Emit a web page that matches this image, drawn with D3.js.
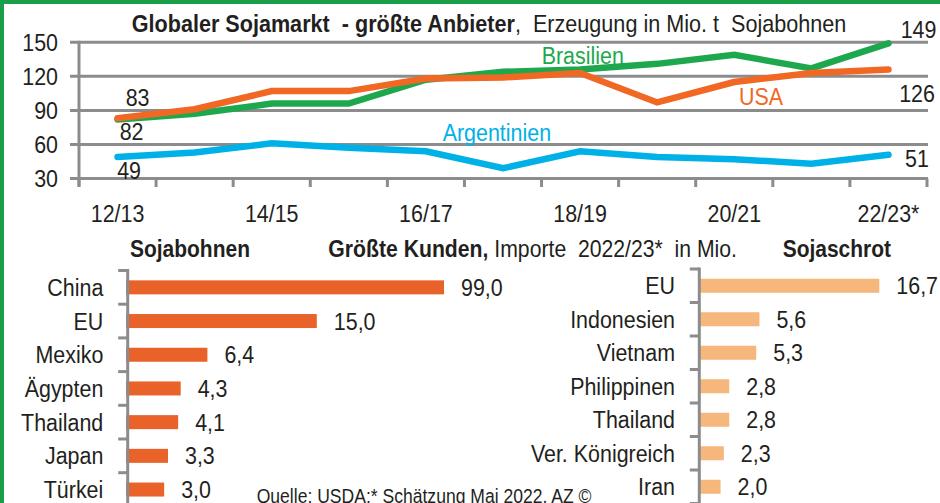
<!DOCTYPE html>
<html>
<head>
<meta charset="utf-8">
<script src="https://cdn.jsdelivr.net/npm/d3@7"></script>
<style>
  body { margin: 0; background: #fff; }
  svg { display: block; font-family: "Liberation Sans", Arial, sans-serif; }
  text { fill: #231f20; white-space: pre; }
</style>
</head>
<body>
<svg id="chart" width="940" height="503"></svg>
<script>
// Erzeugung Sojabohnen in Mio. t
const years = ["12/13", "13/14", "14/15", "15/16", "16/17", "17/18", "18/19", "19/20", "20/21", "21/22", "22/23*"];
const brasilien = [82, 87, 96, 96, 117, 124, 126, 131, 139, 127, 149];
const usa = [83, 91, 107, 107, 118, 119, 123, 97, 115, 123, 126];
const argentinien = [49, 53, 61, 57, 54, 39, 54, 49, 47, 43, 51];
const yTicks = [30, 60, 90, 120, 150];
const yearTicks = ["12/13", "14/15", "16/17", "18/19", "20/21", "22/23*"];

// Importe 2022/23* in Mio.
const sojaLaender = ["China", "EU", "Mexiko", "Ägypten", "Thailand", "Japan", "Türkei"];
const sojaWerte = [99.0, 15.0, 6.4, 4.3, 4.1, 3.3, 3.0];
const schrotLaender = ["EU", "Indonesien", "Vietnam", "Philippinen", "Thailand", "Ver. Königreich", "Iran"];
const schrotWerte = [16.7, 5.6, 5.3, 2.8, 2.8, 2.3, 2.0];

const grey = "#8c8c8c";
const fs = 23.3;
const sx = 0.92;   // narrow the font like a condensed face
let tr = (x, y, s) => "translate(" + x + "," + y + ") scale(" + (s || sx) + ",1)";

let svg = d3.select("#chart");
let de = d3.formatLocale({decimal: ",", thousands: ".", grouping: [3], currency: ["", " €"]});
let fmt = de.format(".1f");

// green frame, only top and left
svg.append("path")
    .attr("d", "M2,503 L2,2 L940,2")
    .attr("fill", "none")
    .attr("stroke", "#1a9f48")
    .attr("stroke-width", 4);

// ---------- top: line chart ----------
let x = d3.scaleBand().domain(years).range([79, 927]);
let y = d3.scaleLinear().domain([30, 150]).range([178.5, 42.3]);
let cx = d => x(d) + x.bandwidth() / 2;

svg.append("g").selectAll("line").data(yTicks).enter().append("line")
    .attr("x1", 70).attr("x2", 928)
    .attr("y1", d => y(d)).attr("y2", d => y(d))
    .attr("stroke", grey).attr("stroke-width", 3);

svg.append("line")
    .attr("x1", 79).attr("x2", 79)
    .attr("y1", y(150) - 1.5).attr("y2", y(30) + 8)
    .attr("stroke", grey).attr("stroke-width", 3);

// ticks between the years
svg.append("g").selectAll("line").data(d3.range(years.length + 1)).enter().append("line")
    .attr("x1", i => x.range()[0] + i * x.step())
    .attr("x2", i => x.range()[0] + i * x.step())
    .attr("y1", y(30)).attr("y2", y(30) + 8.5)
    .attr("stroke", grey).attr("stroke-width", 3);

svg.append("g").selectAll("text").data(yTicks).enter().append("text")
    .attr("transform", d => tr(58, y(d) + 8.5))
    .attr("text-anchor", "end")
    .style("font-size", fs + "px")
    .text(d => d);

let xAxis = svg.append("g")
    .attr("transform", "translate(0,205)")
    .call(d3.axisBottom(x).tickValues(yearTicks).tickSize(0).tickPadding(0));
xAxis.select(".domain").remove();
xAxis.selectAll("text")
    .attr("y", null).attr("dy", null)
    .attr("transform", tr(0, 16.7))
    .attr("font-family", null)
    .style("font-size", fs + "px")
    .style("fill", "#231f20");

let series = [
    {name: "Brasilien", values: brasilien, color: "#1ea84e"},
    {name: "USA", values: usa, color: "#f06824"},
    {name: "Argentinien", values: argentinien, color: "#00b1e7"}
];

let line = d3.line()
    .x((d, i) => cx(years[i]))
    .y(d => y(d));

svg.append("g").selectAll("path").data(series).enter().append("path")
    .attr("d", d => line(d.values))
    .attr("fill", "none")
    .attr("stroke", d => d.color)
    .attr("stroke-width", 6.5)
    .attr("stroke-linecap", "round")
    .attr("stroke-linejoin", "miter");

// series names
let nameLabels = [
    {s: 0, x: 541.7, y: 64.3},
    {s: 1, x: 739, y: 105},
    {s: 2, x: 442.7, y: 140.7}
];
svg.append("g").selectAll("text").data(nameLabels).enter().append("text")
    .attr("transform", d => tr(d.x, d.y))
    .style("font-size", fs + "px")
    .style("fill", d => series[d.s].color)
    .text(d => series[d.s].name);

// first / last values
let valueLabels = [
    {s: 1, i: 0, dx: 20, dy: -12, anchor: "middle"},
    {s: 0, i: 0, dx: 14, dy: 21, anchor: "middle"},
    {s: 2, i: 0, dx: 11.5, dy: 22, anchor: "middle"},
    {s: 0, i: 10, dx: 48, dy: -5, anchor: "end"},
    {s: 1, i: 10, dx: 46.5, dy: 32, anchor: "end"},
    {s: 2, i: 10, dx: 40.5, dy: 12, anchor: "end"}
];
svg.append("g").selectAll("text").data(valueLabels).enter().append("text")
    .attr("transform", d => tr(cx(years[d.i]) + d.dx, y(series[d.s].values[d.i]) + d.dy))
    .attr("text-anchor", d => d.anchor)
    .style("font-size", fs + "px")
    .text(d => series[d.s].values[d.i]);

// title
let title = svg.append("text").attr("transform", tr(131.7, 31.7, 0.9)).style("font-size", "24px");
title.append("tspan").style("font-weight", "bold").text("Globaler Sojamarkt  - größte Anbieter");
title.append("tspan").text(",  Erzeugung in Mio. t  Sojabohnen");

// ---------- bottom: bar charts ----------
let heads = svg.append("g").style("font-size", fs + "px");
heads.append("text").attr("transform", tr(130, 257.3, 0.9)).style("font-weight", "bold").text("Sojabohnen");
let mid = heads.append("text").attr("transform", tr(328.3, 257.3, 0.91));
mid.append("tspan").style("font-weight", "bold").text("Größte Kunden,");
mid.append("tspan").text(" Importe  2022/23*  in Mio.");
heads.append("text").attr("transform", tr(782.7, 257.3, 0.9)).style("font-weight", "bold").text("Sojaschrot");

function barChart(cats, vals, xs, ys, axisX, labelX, color) {
    let g = svg.append("g");
    let step = ys.step();
    let r0 = ys.range()[0];

    g.selectAll("rect").data(vals).enter().append("rect")
        .attr("x", xs.range()[0])
        .attr("y", (d, i) => ys(cats[i]) + step / 2 - 7)
        .attr("width", d => xs(d) - xs.range()[0])
        .attr("height", 14)
        .attr("fill", color);

    g.append("line")
        .attr("x1", axisX).attr("x2", axisX)
        .attr("y1", r0 - 1.5).attr("y2", 503)
        .attr("stroke", grey).attr("stroke-width", 3);

    g.selectAll("line.tick").data(d3.range(cats.length + 1)).enter().append("line")
        .attr("class", "tick")
        .attr("x1", axisX - 9.5).attr("x2", axisX)
        .attr("y1", i => r0 + i * step).attr("y2", i => r0 + i * step)
        .attr("stroke", grey).attr("stroke-width", 3);

    g.selectAll("text.cat").data(cats).enter().append("text")
        .attr("class", "cat")
        .attr("transform", d => tr(labelX, ys(d) + step / 2 + 8.5))
        .attr("text-anchor", "end")
        .style("font-size", fs + "px")
        .text(d => d);

    g.selectAll("text.val").data(vals).enter().append("text")
        .attr("class", "val")
        .attr("transform", (d, i) => tr(xs(d) + 17, ys(cats[i]) + step / 2 + 8.5))
        .style("font-size", fs + "px")
        .text(d => fmt(d));
}

// China is cut off, so the left scale clamps
let xL = d3.scaleLinear().domain([0, 25]).range([126, 444]).clamp(true);
let yL = d3.scaleBand().domain(sojaLaender).range([270.5, 270.5 + 7 * 33.7]);
barChart(sojaLaender, sojaWerte, xL, yL, 127.7, 103.3, "#e8622a");

let xR = d3.scaleLinear().domain([0, 16.7]).range([699, 879.3]);
let yR = d3.scaleBand().domain(schrotLaender).range([269, 269 + 7 * 33.5]);
barChart(schrotLaender, schrotWerte, xR, yR, 699.3, 675, "#f6b77d");

svg.append("text")
    .attr("transform", tr(256.7, 503, 0.9))
    .style("font-size", "19.5px")
    .text("Quelle: USDA:* Schätzung Mai 2022. AZ ©");
</script>
</body>
</html>
